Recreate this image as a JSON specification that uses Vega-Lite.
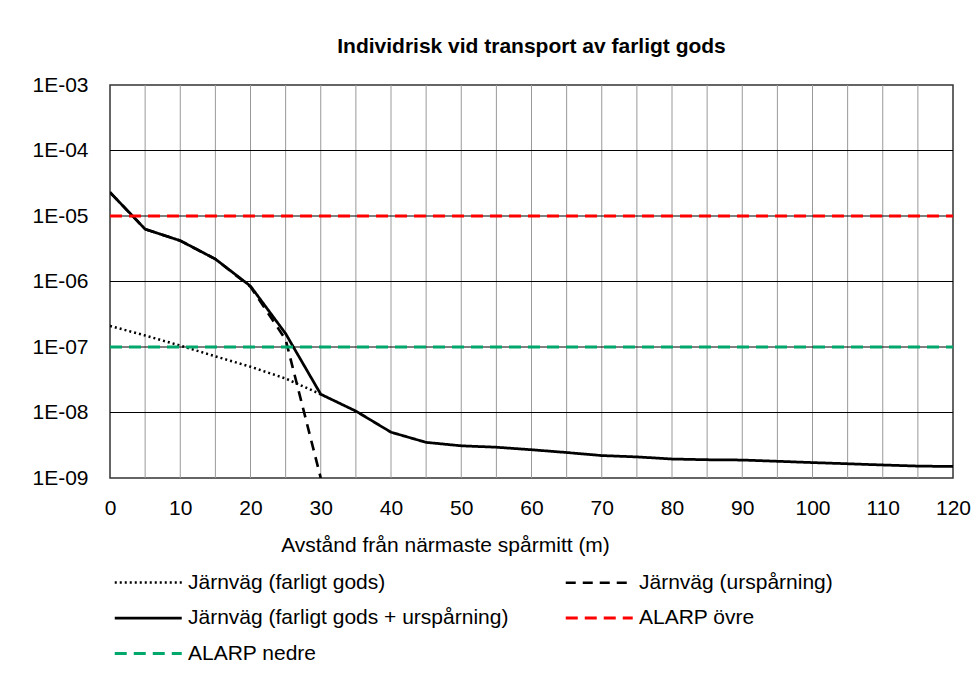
{
  "$schema": "https://vega.github.io/schema/vega-lite/v6.json",
  "autosize": {"type": "none"},
  "width": 843,
  "height": 393,
  "padding": {"left": 110, "top": 85, "right": 27, "bottom": 211},
  "background": "white",
  "config": {
    "font": "Liberation Sans",
    "view": {"stroke": "#333333", "strokeWidth": 1.5}
  },
  "title": {
    "text": "Individrisk vid transport av farligt gods",
    "fontSize": 21,
    "fontWeight": "bold",
    "font": "Liberation Sans",
    "color": "#000000",
    "anchor": "middle",
    "offset": 17
  },
  "data": {
    "values": [
      {"x": 0, "y": 2.1e-7, "serie": "Järnväg (farligt gods)"},
      {"x": 5, "y": 1.5e-7, "serie": "Järnväg (farligt gods)"},
      {"x": 10, "y": 1.05e-7, "serie": "Järnväg (farligt gods)"},
      {"x": 15, "y": 7.2e-8, "serie": "Järnväg (farligt gods)"},
      {"x": 20, "y": 5e-8, "serie": "Järnväg (farligt gods)"},
      {"x": 25, "y": 3.3e-8, "serie": "Järnväg (farligt gods)"},
      {"x": 30, "y": 1.9e-8, "serie": "Järnväg (farligt gods)"},
      {"x": 0, "y": 2.3e-5, "serie": "Järnväg (urspårning)"},
      {"x": 5, "y": 6.3e-6, "serie": "Järnväg (urspårning)"},
      {"x": 10, "y": 4.2e-6, "serie": "Järnväg (urspårning)"},
      {"x": 15, "y": 2.2e-6, "serie": "Järnväg (urspårning)"},
      {"x": 20, "y": 8.3e-7, "serie": "Järnväg (urspårning)"},
      {"x": 25, "y": 1.3e-7, "serie": "Järnväg (urspårning)"},
      {"x": 30, "y": 1e-9, "serie": "Järnväg (urspårning)"},
      {"x": 0, "y": 2.3e-5, "serie": "Järnväg (farligt gods + urspårning)"},
      {"x": 5, "y": 6.3e-6, "serie": "Järnväg (farligt gods + urspårning)"},
      {"x": 10, "y": 4.2e-6, "serie": "Järnväg (farligt gods + urspårning)"},
      {"x": 15, "y": 2.2e-6, "serie": "Järnväg (farligt gods + urspårning)"},
      {"x": 20, "y": 8.5e-7, "serie": "Järnväg (farligt gods + urspårning)"},
      {"x": 25, "y": 1.6e-7, "serie": "Järnväg (farligt gods + urspårning)"},
      {"x": 30, "y": 1.9e-8, "serie": "Järnväg (farligt gods + urspårning)"},
      {"x": 35, "y": 1.05e-8, "serie": "Järnväg (farligt gods + urspårning)"},
      {"x": 40, "y": 5e-9, "serie": "Järnväg (farligt gods + urspårning)"},
      {"x": 45, "y": 3.5e-9, "serie": "Järnväg (farligt gods + urspårning)"},
      {"x": 50, "y": 3.1e-9, "serie": "Järnväg (farligt gods + urspårning)"},
      {"x": 55, "y": 2.95e-9, "serie": "Järnväg (farligt gods + urspårning)"},
      {"x": 60, "y": 2.7e-9, "serie": "Järnväg (farligt gods + urspårning)"},
      {"x": 65, "y": 2.45e-9, "serie": "Järnväg (farligt gods + urspårning)"},
      {"x": 70, "y": 2.2e-9, "serie": "Järnväg (farligt gods + urspårning)"},
      {"x": 75, "y": 2.1e-9, "serie": "Järnväg (farligt gods + urspårning)"},
      {"x": 80, "y": 1.95e-9, "serie": "Järnväg (farligt gods + urspårning)"},
      {"x": 85, "y": 1.9e-9, "serie": "Järnväg (farligt gods + urspårning)"},
      {"x": 90, "y": 1.88e-9, "serie": "Järnväg (farligt gods + urspårning)"},
      {"x": 95, "y": 1.8e-9, "serie": "Järnväg (farligt gods + urspårning)"},
      {"x": 100, "y": 1.72e-9, "serie": "Järnväg (farligt gods + urspårning)"},
      {"x": 105, "y": 1.65e-9, "serie": "Järnväg (farligt gods + urspårning)"},
      {"x": 110, "y": 1.58e-9, "serie": "Järnväg (farligt gods + urspårning)"},
      {"x": 115, "y": 1.52e-9, "serie": "Järnväg (farligt gods + urspårning)"},
      {"x": 120, "y": 1.5e-9, "serie": "Järnväg (farligt gods + urspårning)"},
      {"x": 0, "y": 1e-5, "serie": "ALARP övre"},
      {"x": 120, "y": 1e-5, "serie": "ALARP övre"},
      {"x": 0, "y": 1e-7, "serie": "ALARP nedre"},
      {"x": 120, "y": 1e-7, "serie": "ALARP nedre"}
    ]
  },
  "layer": [
    {
      "mark": {"type": "rule", "color": "#999999", "strokeWidth": 1},
      "data": {"values": [{"g": 5},{"g": 10},{"g": 15},{"g": 20},{"g": 25},{"g": 30},{"g": 35},{"g": 40},{"g": 45},{"g": 50},{"g": 55},{"g": 60},{"g": 65},{"g": 70},{"g": 75},{"g": 80},{"g": 85},{"g": 90},{"g": 95},{"g": 100},{"g": 105},{"g": 110},{"g": 115}]},
      "encoding": {"x": {"field": "g", "type": "quantitative"}}
    },
    {
      "mark": {"type": "rule", "color": "#000000", "strokeWidth": 1.2},
      "data": {"values": [{"h": 1e-4},{"h": 1e-5},{"h": 1e-6},{"h": 1e-7},{"h": 1e-8}]},
      "encoding": {"y": {"field": "h", "type": "quantitative"}}
    },
    {
      "mark": {"type": "line", "strokeCap": "butt", "clip": true},
      "encoding": {
        "x": {
          "field": "x", "type": "quantitative",
          "scale": {"domain": [0, 120], "nice": false},
          "axis": {
            "values": [0, 10, 20, 30, 40, 50, 60, 70, 80, 90, 100, 110, 120],
            "grid": false, "ticks": false, "domain": false,
            "labelFlush": false,
            "labelFontSize": 21, "labelColor": "#000000", "labelPadding": 19,
            "title": "Avstånd från närmaste spårmitt (m)",
            "titleFontSize": 21, "titleFontWeight": "normal", "titleColor": "#000000",
            "titleX": 335, "titlePadding": 16
          }
        },
        "y": {
          "field": "y", "type": "quantitative",
          "scale": {"type": "log", "domain": [1e-9, 1e-3], "nice": false},
          "axis": {
            "values": [1e-9, 1e-8, 1e-7, 1e-6, 1e-5, 1e-4, 1e-3],
            "labelExpr": "'1E-0' + round(-log(datum.value)/LN10)",
            "grid": false, "ticks": false, "domain": false,
            "labelFontSize": 21, "labelColor": "#000000", "labelPadding": 22,
            "title": null
          }
        },
        "color": {
          "field": "serie", "type": "nominal",
          "scale": {
            "domain": ["Järnväg (farligt gods)", "Järnväg (urspårning)", "Järnväg (farligt gods + urspårning)", "ALARP övre", "ALARP nedre"],
            "range": ["#000000", "#000000", "#000000", "#ff0000", "#00a86b"]
          },
          "legend": {
            "title": null,
            "orient": "none",
            "legendX": 3,
            "legendY": 479,
            "direction": "horizontal",
            "columns": 2,
            "columnPadding": 51,
            "rowPadding": 6.5,
            "symbolType": "M-1,0H3",
            "symbolSize": 1122,
            "symbolStrokeWidth": 3,
            "symbolFillColor": "transparent",
            "labelFontSize": 21,
            "labelColor": "#000000",
            "labelOffset": 38,
            "labelLimit": 420
          }
        },
        "strokeDash": {
          "field": "serie", "type": "nominal",
          "scale": {
            "domain": ["Järnväg (farligt gods)", "Järnväg (urspårning)", "Järnväg (farligt gods + urspårning)", "ALARP övre", "ALARP nedre"],
            "range": [[2, 3], [10, 7], [1, 0], [12, 7], [12, 7]]
          },
          "legend": {"title": null}
        },
        "strokeWidth": {
          "field": "serie", "type": "nominal",
          "scale": {
            "domain": ["Järnväg (farligt gods)", "Järnväg (urspårning)", "Järnväg (farligt gods + urspårning)", "ALARP övre", "ALARP nedre"],
            "range": [2.5, 3, 3.2, 3.5, 3.5]
          },
          "legend": {"title": null}
        }
      }
    }
  ]
}
